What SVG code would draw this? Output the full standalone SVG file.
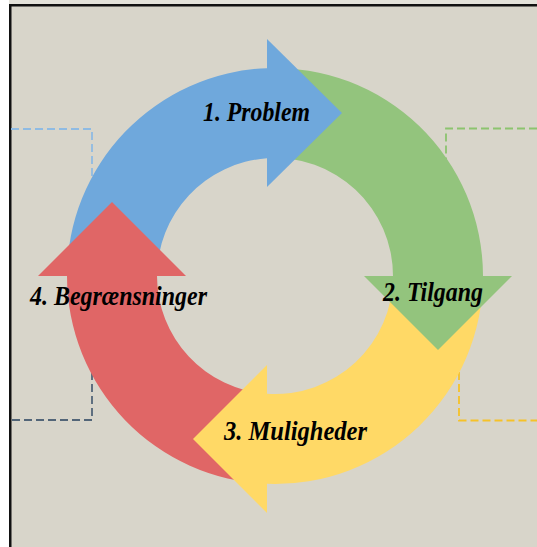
<svg xmlns="http://www.w3.org/2000/svg" width="537" height="547" viewBox="0 0 537 547">
  <style>
    .dash { fill: none; stroke-width: 1.8; stroke-dasharray: 8 4; }
    .lbl { font-family: "Liberation Serif", "DejaVu Serif", serif; font-weight: bold; font-style: italic; font-size: 28px; fill: #000; }
    .blue { fill: #6fa8dc; }
    .green { fill: #93c47d; }
    .yellow { fill: #ffd966; }
    .red { fill: #e06666; }
  </style>
  <rect x="0" y="0" width="537" height="547" fill="#ffffff"/>
  <rect x="9" y="0" width="528" height="5" fill="#e4e2da"/>
  <rect x="10" y="6" width="527" height="541" fill="#d8d5ca"/>
  <rect x="9" y="4" width="528" height="2.5" fill="#111"/>
  <rect x="9" y="4" width="2.5" height="543" fill="#111"/>

  <g id="frames">
    <path class="dash" stroke="#8fbbe3" d="M11,129 H92 V276"/>
    <path class="dash" stroke="#526578" d="M92,276 V420 H11"/>
    <path class="dash" stroke="#8cc46f" d="M537,128.5 H446 V276"/>
    <path class="dash" stroke="#f5c228" d="M459,276 V420.5 H537"/>
  </g>

  <g id="ring">
    <path class="blue" d="M67,276 A208,208 0 0 1 267,68.15 L267,158.27 A118,118 0 0 0 157,276 Z"/>
    <path class="green" d="M267,68.15 A208,208 0 0 1 483,276 L393,276 A118,118 0 0 0 267,158.27 Z"/>
    <path class="yellow" d="M483,276 A208,208 0 0 1 267,483.85 L267,393.73 A118,118 0 0 0 393,276 Z"/>
    <path class="red" d="M267,483.85 A208,208 0 0 1 67,276 L157,276 A118,118 0 0 0 267,393.73 Z"/>
  </g>

  <g id="connectors"></g>

  <g id="node-problem">
    <path class="blue" d="M267,39 L342,113 L267,187 Z"/>
    <text class="lbl" x="203" y="121" textLength="107" lengthAdjust="spacingAndGlyphs">1. Problem</text>
  </g>
  <g id="node-tilgang">
    <path class="green" d="M364,276 L512,276 L438,350 Z"/>
    <text class="lbl" x="383" y="301" textLength="100" lengthAdjust="spacingAndGlyphs">2. Tilgang</text>
  </g>
  <g id="node-muligheder">
    <path class="yellow" d="M267,365 L267,513 L193,439 Z"/>
    <text class="lbl" x="224" y="440" textLength="143" lengthAdjust="spacingAndGlyphs">3. Muligheder</text>
  </g>
  <g id="node-begraensninger">
    <path class="red" d="M38,276 L186,276 L112,202 Z"/>
    <text class="lbl" x="30" y="305" textLength="177" lengthAdjust="spacingAndGlyphs">4. Begrænsninger</text>
  </g>
</svg>
